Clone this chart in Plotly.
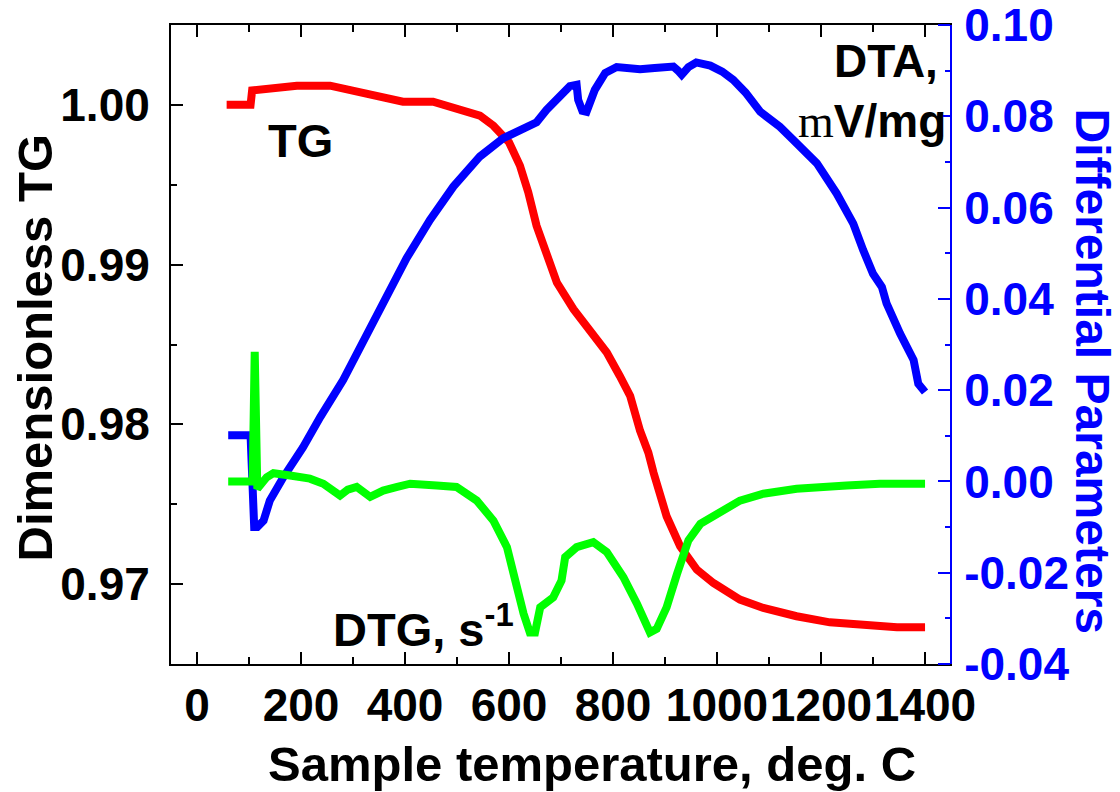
import plotly.graph_objects as go

# Thermogravimetric run: sample temperature (deg. C) vs. dimensionless TG,
# DTA (mV/mg) and DTG (s^-1)
tg_temp = [57, 103, 106, 134, 192, 256, 281, 333, 396, 454, 506, 544, 570, 600,
           621, 637, 653, 672, 692, 724, 756, 788, 813, 833, 852, 868, 878, 903,
           929, 961, 993, 1044, 1089, 1153, 1217, 1281, 1346, 1400]
tg_value = [1.0000, 1.0000, 1.0009, 1.0010, 1.0012, 1.0012, 1.0010, 1.0007, 1.0002,
            1.0002, 0.99975, 0.99933, 0.9987, 0.99766, 0.99620, 0.99453, 0.99243,
            0.99076, 0.98888, 0.98721, 0.98575, 0.98450, 0.98303, 0.98178, 0.97960,
            0.97822, 0.97697, 0.97425, 0.97237, 0.97091, 0.97007, 0.96903, 0.96851,
            0.96799, 0.96761, 0.96746, 0.96730, 0.96730]

dta_temp = [60, 103, 110, 116, 128, 140, 166, 204, 237, 281, 403, 448, 493, 544, 589,
            621, 653, 672, 685, 704, 717, 730, 733, 741, 749, 765, 785, 807, 852, 880,
            916, 925, 932, 945, 960, 987, 1010, 1031, 1055, 1083, 1121, 1147, 1192,
            1230, 1262, 1281, 1300, 1317, 1326, 1352, 1378, 1387, 1400]
dta_value = [0.0101, 0.0101, -0.0100, -0.0100, -0.0086, -0.0042, 0.0009, 0.0075,
             0.0141, 0.0222, 0.0489, 0.0573, 0.0646, 0.0712, 0.0752, 0.0772, 0.0787,
             0.0814, 0.0829, 0.0851, 0.0866, 0.0869, 0.0836, 0.0812, 0.0810, 0.0858,
             0.0895, 0.0908, 0.0903, 0.0906, 0.0909, 0.0900, 0.0891, 0.0908, 0.0918,
             0.0911, 0.0898, 0.0880, 0.0852, 0.0810, 0.0777, 0.0748, 0.0697, 0.0631,
             0.0565, 0.0507, 0.0455, 0.0426, 0.0390, 0.0324, 0.0266, 0.0214, 0.0196]

dtg_temp = [60, 107, 111, 116, 134, 147, 179, 217, 243, 275, 290, 307, 333, 358, 385,
            410, 461, 499, 538, 570, 596, 611, 628, 640, 650, 660, 685, 701, 708, 730,
            762, 788, 820, 846, 871, 884, 903, 923, 945, 968, 1006, 1044, 1089, 1153,
            1249, 1313, 1400]
dtg_value = [0.0000, 0.0000, 0.0284, -0.0016, 0.0009, 0.0018, 0.0013, 0.0006, -0.0005,
             -0.0031, -0.0018, -0.0012, -0.0034, -0.0020, -0.0012, -0.0005, -0.0009,
             -0.0012, -0.0042, -0.0086, -0.0144, -0.0217, -0.0290, -0.0331, -0.0331,
             -0.0276, -0.0254, -0.0217, -0.0166, -0.0144, -0.0133, -0.0155, -0.0210,
             -0.0268, -0.0331, -0.0323, -0.0276, -0.0203, -0.0129, -0.0093, -0.0067,
             -0.0042, -0.0027, -0.0016, -0.0009, -0.0005, -0.0005]

x_ticks = [0, 200, 400, 600, 800, 1000, 1200, 1400]
x_tick_text = ["0", "200", "400", "600", "800", "1000", "1200", "1400"]
tg_ticks = [0.97, 0.98, 0.99, 1.00]
tg_tick_text = ["0.97", "0.98", "0.99", "1.00"]
diff_ticks = [-0.04, -0.02, 0.00, 0.02, 0.04, 0.06, 0.08, 0.10]
diff_tick_text = ["-0.04", "-0.02", "0.00", "0.02", "0.04", "0.06", "0.08", "0.10"]

FONT = "Liberation Sans, Arial, sans-serif"
BLUE = "#0000FF"
LW = 8

fig = go.Figure()
fig.add_trace(go.Scatter(x=tg_temp, y=tg_value, mode="lines", yaxis="y",
                         line=dict(color="#FF0000", width=LW)))
fig.add_trace(go.Scatter(x=dta_temp, y=dta_value, mode="lines", yaxis="y2",
                         line=dict(color=BLUE, width=LW)))
fig.add_trace(go.Scatter(x=dtg_temp, y=dtg_value, mode="lines", yaxis="y2",
                         line=dict(color="#00FF00", width=LW)))

tick_font = dict(family=FONT, size=46, color="black", weight="bold")

fig.update_layout(
    width=1120, height=792, autosize=False,
    margin=dict(l=171, r=170, t=25, b=128),
    paper_bgcolor="white", plot_bgcolor="white",
    showlegend=False,
    xaxis=dict(
        range=[-50, 1448], tickmode="array", tickvals=x_ticks, ticktext=x_tick_text,
        tickangle=0, automargin=False,
        ticks="inside", ticklen=12, tickwidth=2, tickcolor="black",
        minor=dict(dtick=100, ticks="inside", ticklen=7, tickwidth=2, tickcolor="black"),
        showline=True, linecolor="black", linewidth=2, mirror="ticks",
        showgrid=False, zeroline=False, tickfont=tick_font, ticklabelstandoff=0,
    ),
    yaxis=dict(
        range=[0.965, 1.005], tickmode="array", tickvals=tg_ticks, ticktext=tg_tick_text,
        automargin=False,
        ticks="inside", ticklen=12, tickwidth=2, tickcolor="black",
        minor=dict(dtick=0.005, ticks="inside", ticklen=6, tickwidth=2, tickcolor="black"),
        showline=True, linecolor="black", linewidth=2,
        showgrid=False, zeroline=False, tickfont=tick_font, ticklabelstandoff=10,
    ),
    yaxis2=dict(
        range=[-0.04001, 0.10001], overlaying="y", side="right", automargin=False,
        tickmode="array", tickvals=diff_ticks, ticktext=diff_tick_text,
        ticks="inside", ticklen=12, tickwidth=2, tickcolor=BLUE,
        minor=dict(dtick=0.01, ticks="inside", ticklen=5, tickwidth=2, tickcolor=BLUE),
        showline=True, linecolor=BLUE, linewidth=2,
        showgrid=False, zeroline=False,
        tickfont=dict(family=FONT, size=46, color=BLUE, weight="bold"),
        ticklabelstandoff=3, ticklabeloverflow="allow",
    ),
)

# blue corner segments of the frame next to the right axis
for yp in (0, 1):
    fig.add_shape(type="line", xref="paper", yref="paper", x0=0.9846, x1=1.0,
                  y0=yp, y1=yp, line=dict(color=BLUE, width=2))

title_font = dict(family=FONT, size=49, color="black", weight="bold")
label_font = dict(family=FONT, size=47, color="black", weight="bold")

fig.add_annotation(text="Sample temperature, deg. C", xref="paper", yref="paper",
                   x=0.540, y=-0.157, xanchor="center", yanchor="middle",
                   showarrow=False, font=title_font)
fig.add_annotation(text="Dimensionless TG", xref="paper", yref="paper",
                   x=-0.1746, y=0.4953, xanchor="center", yanchor="middle",
                   textangle=-90, showarrow=False, font=title_font)
fig.add_annotation(text="Differential Parameters", xref="paper", yref="paper",
                   x=1.183, y=0.4585, xanchor="center", yanchor="middle",
                   textangle=90, showarrow=False,
                   font=dict(family=FONT, size=48, color=BLUE, weight="bold"))
fig.add_annotation(text="TG", xref="paper", yref="paper", x=0.1656, y=0.820,
                   xanchor="center", yanchor="middle", showarrow=False, font=label_font)
fig.add_annotation(text="DTA,", xref="paper", yref="paper", x=0.987, y=0.944,
                   xanchor="right", yanchor="middle", showarrow=False,
                   font=dict(family=FONT, size=46, color="black", weight="bold"))
fig.add_annotation(text='<span style="font-family:Liberation Serif, Times New Roman, serif;font-weight:normal">m</span>V/mg',
                   xref="paper", yref="paper", x=0.9974, y=0.850,
                   xanchor="right", yanchor="middle", showarrow=False,
                   font=dict(family=FONT, size=46, color="black", weight="bold"))
fig.add_annotation(text="DTG, s<sup>-1</sup>", xref="paper", yref="paper",
                   x=0.206, y=0.060, xanchor="left", yanchor="middle",
                   showarrow=False, font=label_font)

fig.write_html("out.html")
